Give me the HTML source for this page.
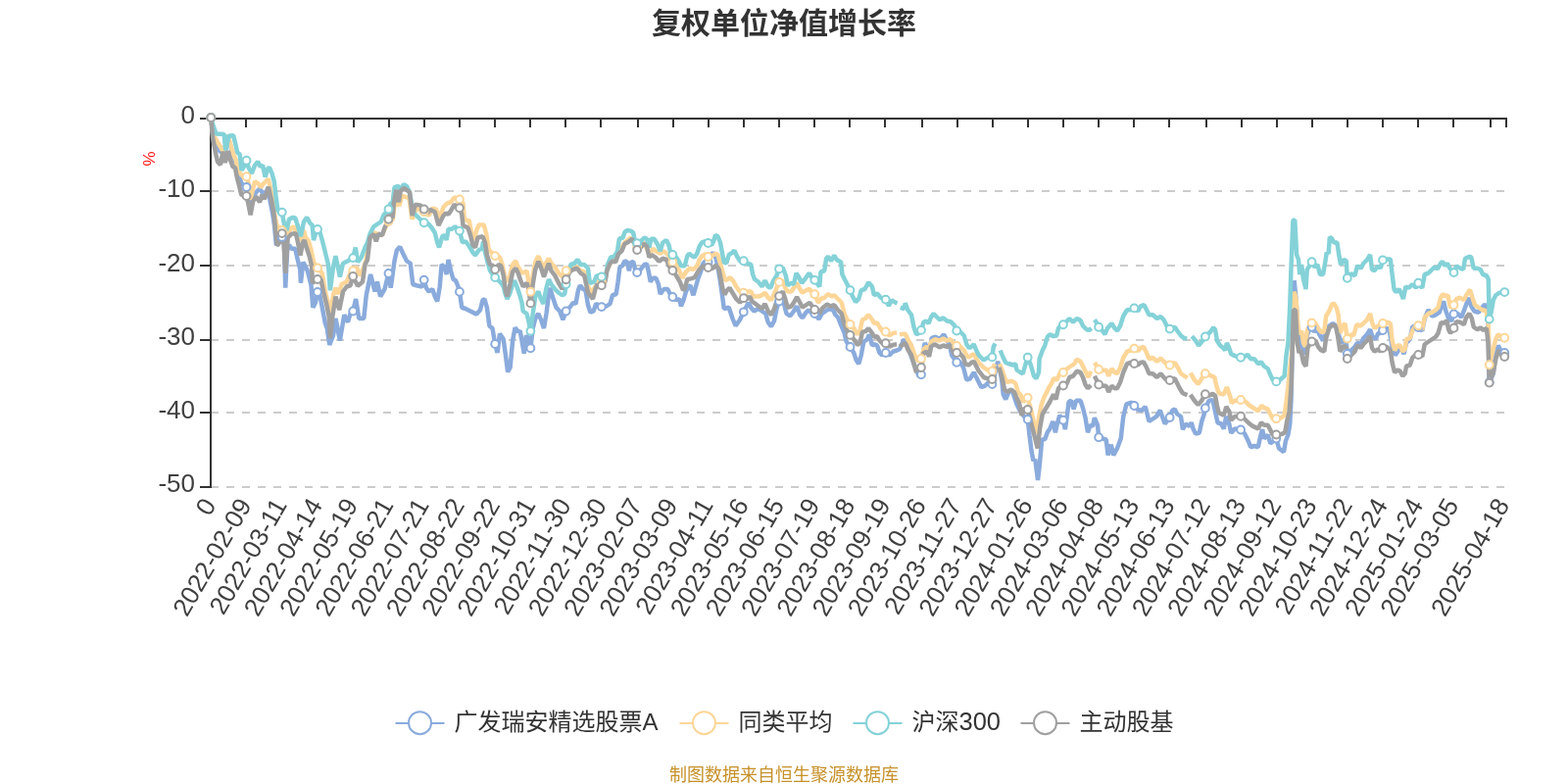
<!DOCTYPE html>
<html lang="zh-CN"><head><meta charset="utf-8"><title>复权单位净值增长率</title>
<style>
html,body{margin:0;padding:0;background:#fff;}
body{width:1600px;height:800px;position:relative;overflow:hidden;font-family:"Liberation Sans","Noto Sans CJK SC",sans-serif;}
.title{position:absolute;left:0;top:0;width:1600px;text-align:center;font-size:30px;font-weight:bold;color:#333;line-height:47px;white-space:nowrap;}
.foot{position:absolute;left:0;top:779px;width:1600px;text-align:center;font-size:18px;color:#c6912a;line-height:24px;white-space:nowrap;}
svg text{font-family:"Liberation Sans","Noto Sans CJK SC",sans-serif;}
.ax{font-size:26px;fill:#404040;}
.leg{font-size:24px;fill:#333;}
.unit{font-size:17px;fill:#ff1a1a;}
</style></head><body>
<svg width="1600" height="800" viewBox="0 0 1600 800" style="position:absolute;left:0;top:0">
<line x1="215" y1="195" x2="1537" y2="195" stroke="#ccc" stroke-width="2" stroke-dasharray="8 8"/>
<line x1="215" y1="271" x2="1537" y2="271" stroke="#ccc" stroke-width="2" stroke-dasharray="8 8"/>
<line x1="215" y1="347" x2="1537" y2="347" stroke="#ccc" stroke-width="2" stroke-dasharray="8 8"/>
<line x1="215" y1="421" x2="1537" y2="421" stroke="#ccc" stroke-width="2" stroke-dasharray="8 8"/>
<line x1="215" y1="497" x2="1537" y2="497" stroke="#ccc" stroke-width="2" stroke-dasharray="8 8"/>
<line x1="215" y1="120" x2="215" y2="498" stroke="#333" stroke-width="2"/>
<line x1="214" y1="121" x2="1538" y2="121" stroke="#333" stroke-width="2"/>
<line x1="204" y1="121" x2="215" y2="121" stroke="#333" stroke-width="2"/>
<line x1="204" y1="195" x2="215" y2="195" stroke="#333" stroke-width="2"/>
<line x1="204" y1="271" x2="215" y2="271" stroke="#333" stroke-width="2"/>
<line x1="204" y1="347" x2="215" y2="347" stroke="#333" stroke-width="2"/>
<line x1="204" y1="421" x2="215" y2="421" stroke="#333" stroke-width="2"/>
<line x1="204" y1="497" x2="215" y2="497" stroke="#333" stroke-width="2"/>
<line x1="251" y1="121" x2="251" y2="130" stroke="#333" stroke-width="2"/>
<line x1="287" y1="121" x2="287" y2="130" stroke="#333" stroke-width="2"/>
<line x1="323" y1="121" x2="323" y2="130" stroke="#333" stroke-width="2"/>
<line x1="361" y1="121" x2="361" y2="130" stroke="#333" stroke-width="2"/>
<line x1="397" y1="121" x2="397" y2="130" stroke="#333" stroke-width="2"/>
<line x1="433" y1="121" x2="433" y2="130" stroke="#333" stroke-width="2"/>
<line x1="469" y1="121" x2="469" y2="130" stroke="#333" stroke-width="2"/>
<line x1="505" y1="121" x2="505" y2="130" stroke="#333" stroke-width="2"/>
<line x1="541" y1="121" x2="541" y2="130" stroke="#333" stroke-width="2"/>
<line x1="577" y1="121" x2="577" y2="130" stroke="#333" stroke-width="2"/>
<line x1="613" y1="121" x2="613" y2="130" stroke="#333" stroke-width="2"/>
<line x1="651" y1="121" x2="651" y2="130" stroke="#333" stroke-width="2"/>
<line x1="687" y1="121" x2="687" y2="130" stroke="#333" stroke-width="2"/>
<line x1="723" y1="121" x2="723" y2="130" stroke="#333" stroke-width="2"/>
<line x1="759" y1="121" x2="759" y2="130" stroke="#333" stroke-width="2"/>
<line x1="795" y1="121" x2="795" y2="130" stroke="#333" stroke-width="2"/>
<line x1="831" y1="121" x2="831" y2="130" stroke="#333" stroke-width="2"/>
<line x1="867" y1="121" x2="867" y2="130" stroke="#333" stroke-width="2"/>
<line x1="903" y1="121" x2="903" y2="130" stroke="#333" stroke-width="2"/>
<line x1="941" y1="121" x2="941" y2="130" stroke="#333" stroke-width="2"/>
<line x1="977" y1="121" x2="977" y2="130" stroke="#333" stroke-width="2"/>
<line x1="1013" y1="121" x2="1013" y2="130" stroke="#333" stroke-width="2"/>
<line x1="1049" y1="121" x2="1049" y2="130" stroke="#333" stroke-width="2"/>
<line x1="1085" y1="121" x2="1085" y2="130" stroke="#333" stroke-width="2"/>
<line x1="1121" y1="121" x2="1121" y2="130" stroke="#333" stroke-width="2"/>
<line x1="1157" y1="121" x2="1157" y2="130" stroke="#333" stroke-width="2"/>
<line x1="1193" y1="121" x2="1193" y2="130" stroke="#333" stroke-width="2"/>
<line x1="1231" y1="121" x2="1231" y2="130" stroke="#333" stroke-width="2"/>
<line x1="1267" y1="121" x2="1267" y2="130" stroke="#333" stroke-width="2"/>
<line x1="1303" y1="121" x2="1303" y2="130" stroke="#333" stroke-width="2"/>
<line x1="1339" y1="121" x2="1339" y2="130" stroke="#333" stroke-width="2"/>
<line x1="1375" y1="121" x2="1375" y2="130" stroke="#333" stroke-width="2"/>
<line x1="1411" y1="121" x2="1411" y2="130" stroke="#333" stroke-width="2"/>
<line x1="1447" y1="121" x2="1447" y2="130" stroke="#333" stroke-width="2"/>
<line x1="1483" y1="121" x2="1483" y2="130" stroke="#333" stroke-width="2"/>
<line x1="1521" y1="121" x2="1521" y2="130" stroke="#333" stroke-width="2"/>
<line x1="1537" y1="121" x2="1537" y2="130" stroke="#333" stroke-width="2"/>
<text x="199" y="126.2" text-anchor="end" class="ax">0</text>
<text x="199" y="201.4" text-anchor="end" class="ax">-10</text>
<text x="199" y="276.6" text-anchor="end" class="ax">-20</text>
<text x="199" y="351.8" text-anchor="end" class="ax">-30</text>
<text x="199" y="427" text-anchor="end" class="ax">-40</text>
<text x="199" y="502.2" text-anchor="end" class="ax">-50</text>
<text transform="translate(215.5,512) rotate(-60)" x="0" y="6.5" text-anchor="end" class="ax">0</text>
<text transform="translate(251.73,512) rotate(-60)" x="0" y="6.5" text-anchor="end" class="ax">2022-02-09</text>
<text transform="translate(287.97,512) rotate(-60)" x="0" y="6.5" text-anchor="end" class="ax">2022-03-11</text>
<text transform="translate(324.2,512) rotate(-60)" x="0" y="6.5" text-anchor="end" class="ax">2022-04-14</text>
<text transform="translate(360.44,512) rotate(-60)" x="0" y="6.5" text-anchor="end" class="ax">2022-05-19</text>
<text transform="translate(396.67,512) rotate(-60)" x="0" y="6.5" text-anchor="end" class="ax">2022-06-21</text>
<text transform="translate(432.9,512) rotate(-60)" x="0" y="6.5" text-anchor="end" class="ax">2022-07-21</text>
<text transform="translate(469.14,512) rotate(-60)" x="0" y="6.5" text-anchor="end" class="ax">2022-08-22</text>
<text transform="translate(505.37,512) rotate(-60)" x="0" y="6.5" text-anchor="end" class="ax">2022-09-22</text>
<text transform="translate(541.61,512) rotate(-60)" x="0" y="6.5" text-anchor="end" class="ax">2022-10-31</text>
<text transform="translate(577.84,512) rotate(-60)" x="0" y="6.5" text-anchor="end" class="ax">2022-11-30</text>
<text transform="translate(614.07,512) rotate(-60)" x="0" y="6.5" text-anchor="end" class="ax">2022-12-30</text>
<text transform="translate(650.31,512) rotate(-60)" x="0" y="6.5" text-anchor="end" class="ax">2023-02-07</text>
<text transform="translate(686.54,512) rotate(-60)" x="0" y="6.5" text-anchor="end" class="ax">2023-03-09</text>
<text transform="translate(722.78,512) rotate(-60)" x="0" y="6.5" text-anchor="end" class="ax">2023-04-11</text>
<text transform="translate(759.01,512) rotate(-60)" x="0" y="6.5" text-anchor="end" class="ax">2023-05-16</text>
<text transform="translate(795.24,512) rotate(-60)" x="0" y="6.5" text-anchor="end" class="ax">2023-06-15</text>
<text transform="translate(831.48,512) rotate(-60)" x="0" y="6.5" text-anchor="end" class="ax">2023-07-19</text>
<text transform="translate(867.71,512) rotate(-60)" x="0" y="6.5" text-anchor="end" class="ax">2023-08-18</text>
<text transform="translate(903.95,512) rotate(-60)" x="0" y="6.5" text-anchor="end" class="ax">2023-09-19</text>
<text transform="translate(940.18,512) rotate(-60)" x="0" y="6.5" text-anchor="end" class="ax">2023-10-26</text>
<text transform="translate(976.41,512) rotate(-60)" x="0" y="6.5" text-anchor="end" class="ax">2023-11-27</text>
<text transform="translate(1012.65,512) rotate(-60)" x="0" y="6.5" text-anchor="end" class="ax">2023-12-27</text>
<text transform="translate(1048.88,512) rotate(-60)" x="0" y="6.5" text-anchor="end" class="ax">2024-01-26</text>
<text transform="translate(1085.12,512) rotate(-60)" x="0" y="6.5" text-anchor="end" class="ax">2024-03-06</text>
<text transform="translate(1121.35,512) rotate(-60)" x="0" y="6.5" text-anchor="end" class="ax">2024-04-08</text>
<text transform="translate(1157.58,512) rotate(-60)" x="0" y="6.5" text-anchor="end" class="ax">2024-05-13</text>
<text transform="translate(1193.82,512) rotate(-60)" x="0" y="6.5" text-anchor="end" class="ax">2024-06-13</text>
<text transform="translate(1230.05,512) rotate(-60)" x="0" y="6.5" text-anchor="end" class="ax">2024-07-12</text>
<text transform="translate(1266.29,512) rotate(-60)" x="0" y="6.5" text-anchor="end" class="ax">2024-08-13</text>
<text transform="translate(1302.52,512) rotate(-60)" x="0" y="6.5" text-anchor="end" class="ax">2024-09-12</text>
<text transform="translate(1338.75,512) rotate(-60)" x="0" y="6.5" text-anchor="end" class="ax">2024-10-23</text>
<text transform="translate(1374.99,512) rotate(-60)" x="0" y="6.5" text-anchor="end" class="ax">2024-11-22</text>
<text transform="translate(1411.22,512) rotate(-60)" x="0" y="6.5" text-anchor="end" class="ax">2024-12-24</text>
<text transform="translate(1447.46,512) rotate(-60)" x="0" y="6.5" text-anchor="end" class="ax">2025-01-24</text>
<text transform="translate(1483.69,512) rotate(-60)" x="0" y="6.5" text-anchor="end" class="ax">2025-03-05</text>
<text transform="translate(1535.45,512) rotate(-60)" x="0" y="6.5" text-anchor="end" class="ax">2025-04-18</text>
<text transform="translate(152,162) rotate(-90)" text-anchor="middle" dominant-baseline="central" class="unit">%</text>
<path d="M215.3 120L217 137L219.5 144L222 149L224.5 154.5L227.5 156L229.5 153L231.5 138L235 148L238 159L241 167L243 176L246 186L249 190L251.53 191L253.75 198.75L255.62 212.5L258.12 201.25L261.25 196.25L265 192.5L267.5 196.25L270 200L273.75 191.25L275.62 205L278.12 217.5L280 230L281.88 250L285 247.5L287.77 241.9L290 250L291.25 293.75L293.12 255L295 250L297.5 253.75L301.25 253.75L303.75 265L306.25 275L306.88 288.75L309.38 267.5L313.75 276.25L317.5 291.25L319.38 313.75L321.88 308.75L324 298L326.25 301.25L328.12 310L330 320L331.88 330L333.75 335L336.25 351.88L340 342.5L342.5 325L346.88 347.5L351.25 321.25L355 328.75L357.5 320L360.24 317.5L363.12 305L366.25 325L371.25 325L373.75 301.25L378.12 280L382.5 297.5L385 287.5L388.12 302.5L392.5 295L396.47 279L398.75 293.75L402.5 266.25L405 255L408.12 251.88L411.25 258.75L415 266.25L418.75 268.75L421.25 290L425 291.25L430.62 292.5L432.7 285.6L435 293.75L437.5 297.5L441.25 295L443.75 302.5L446.25 307.5L448.75 292.5L450.62 270L453.75 272.5L455.62 280L457.5 265L460 276.25L462.5 285L465 286.25L467.5 292.5L468.94 297.75L471.25 313.75L475 315L480 317.5L486.25 320.62L490 316.25L492.5 306.25L494.38 305L496.88 313.75L499.38 332.5L502.5 335L505.17 351L507.5 360L510 340.62L513.75 346.25L515.62 360L518.12 379.38L520.62 375L523.12 347.5L525.62 334.38L528.75 338.75L530.62 337.5L532.5 347.5L534.75 360.62L536.88 342.5L539.38 345L541.41 355.25L543.75 335L546.25 325L549.38 320L552.5 327.5L555 335L557.5 320L560 300L561.25 293.75L563.75 302.5L567.5 313.75L571.25 317.5L574.38 326.25L577.64 317.5L581.25 313.75L585 308.75L587.5 310L590 296.25L591.88 291.25L595 295L597.5 296.25L600 311.25L602.5 318.75L605.62 317.5L608.12 310L613.87 313.1L618.75 312.5L622.5 310L625 301.25L628.75 300L630.62 287.5L632.5 272.5L635 271.25L637.5 266.25L640 267.5L641.88 276.25L643.75 268.12L646.25 266.88L648.12 275L650.11 278.1L653.75 275L655.62 272.5L657.5 270L660 269.38L661.88 277.5L663.75 287.5L666.25 283.75L669.38 283.75L671.88 290L673.75 300L677.5 295L681.25 295L683.75 300L686.34 303L690 306.25L693.12 305L695 312.5L697.5 306.25L700 297.5L702.5 292.5L704.38 291.25L707.5 301.25L710 292.5L712.5 283.75L715 277.5L717.5 268.75L720 266.25L722.58 267.5L727.5 257.5L730.62 263.75L732.5 272.5L735 287.5L737.5 305L738.75 315L743.75 313.75L747.5 325L750.62 332.5L755 326.25L758.81 318.3L763.75 308.75L766.25 313.75L769.38 317.5L773.75 315L777.5 317.5L781.25 320L783.75 328.75L786.88 333.12L790 327.5L792.5 315L795.04 307.5L800 310L802.5 320L806.25 322.5L810 317.5L813.12 312.5L816.25 321.25L818.75 324.38L822.5 318.75L825 316.25L827.5 318.75L831.28 320L835.62 325.62L838.75 320L842.5 317.5L846.25 315L850 316.25L852.5 321.25L855 323.75L857.5 330L861.25 338.75L863.75 348.75L867.51 354L871.25 360L873.75 367.5L876.25 371.25L878.75 362.5L881.25 348.75L885 346.25L886.88 341.25L890 352.5L892.5 351.25L895 352.5L897.5 360L900 362.5L903.75 360L907.5 362.5L911.25 358.75L915.12 357.5L918 356.25L922.5 346.25L925 351.25L927.5 357.5L931.25 367.5L935 377.5L937.5 383.75L939.98 382.25L941.88 360L943.75 350L946.25 355L948.75 360L950.62 345L955 343.75L958.75 346.25L963.12 341.25L966.25 347.5L968.75 351.25L971.25 362.5L976.21 369.75L980 370L983.12 375L986.25 387.5L990 386.25L993.75 380L996.25 385L998.75 390L1001.25 395L1005 393.75L1008.75 390L1012.45 392L1015.62 380L1018.12 368.75L1020.62 378.75L1022.5 390L1023.75 402.5L1026.25 407.5L1029.38 400L1032.5 397.5L1035 405L1037.5 412.5L1041.25 420L1045 425L1048.68 428L1050.62 445L1052.5 460L1054.38 470L1056.25 468.75L1058.12 482.5L1059 490L1060.62 476.25L1061.88 462.5L1063.12 448.75L1066.25 448.12L1068.75 441.25L1071.25 437.5L1074.38 430L1076.88 441.25L1078.75 432.5L1081.25 423.75L1084.92 428.75L1086.88 438.12L1088.75 425L1090.62 410L1093.12 408.75L1095.62 417.5L1098.12 408.75L1102.5 408.75L1105 416.25L1107.5 426.25L1110 441.25L1112.5 433.75L1115 435L1116.88 426.25L1120 433.75L1121.15 446.25L1125 447.5L1128.75 448.75L1130.62 464.38L1133.75 453.75L1136.25 464.38L1140 457.5L1143.75 447.5L1146.25 425L1149.38 412.5L1155 410.62L1157.38 414L1161.25 418.12L1165 418.75L1168.75 415L1172.5 430L1176.25 427.5L1180 425L1183.75 418.75L1188.75 432.5L1193.62 426L1196.25 418.75L1198.75 417.5L1201.25 422.5L1205 425L1206.88 438.12L1210 432.5L1213.75 435L1215.62 431.25L1217.5 437.5L1220 442.5L1223.75 441.88L1226.25 430L1228.75 422.5L1229.85 416.5L1233.75 408.75L1237.5 408.12L1240 420L1242.5 431.25L1246.25 432.5L1248.75 437.5L1251.25 425L1253.75 430L1256.25 441.88L1260 437.5L1266.09 438.5L1270 442.5L1273.75 450L1276.25 456.25L1280 455L1283.75 456.25L1286.25 445L1288.12 438.12L1290 447.5L1293.75 443.75L1296.25 452.5L1300 450L1302.32 447.5L1305 457.5L1310 461.25L1311.88 450L1314.38 443.75L1316.25 432.5L1317.5 407.5L1319 342.5L1320.62 286.25L1322.5 305L1324.38 336.25L1326.25 346.25L1330 357.5L1331.88 361.25L1333.75 342.5L1336.25 336.25L1338.55 333.75L1341.25 338.75L1343.75 335L1346.25 341.25L1350 347.5L1352.5 340L1356.25 332.5L1360 330L1363.75 332.5L1366.25 342.5L1368.75 350L1371.25 346.25L1373.75 350L1374.79 361L1378.75 357.5L1382.5 353.75L1385 350L1388.75 351.25L1391.25 345L1395 341.25L1398.12 336.25L1400 342.5L1403.75 346.25L1406.25 340L1408.75 340L1411.02 337L1415 335L1417.5 336.25L1420 350L1421.25 356.25L1423.75 362.5L1426.88 357.5L1430 355L1432.5 361.25L1435 350L1438.75 346.25L1441.25 333.75L1443.75 332.5L1447.26 334L1451.25 337.5L1453.75 325L1457.5 316.25L1461.25 322.5L1465 321.25L1468.75 318.75L1471.25 311.25L1473.12 307.5L1475 316.25L1478.12 325L1481.25 327.5L1483.49 320.4L1487.5 320L1491.25 323.75L1495 313.75L1498.75 303.75L1501.25 312.5L1504.38 317.5L1508.75 318.75L1512.5 313.75L1515 310.62L1517.5 313.75L1518.75 337.5L1519.72 390.2L1523.75 381.25L1526.25 362.5L1528.75 352.5L1531.25 357.5L1535.25 360" fill="none" stroke="#8aabdc" stroke-width="4.5" stroke-linejoin="bevel" stroke-linecap="butt"/>
<path d="M215.3 120L217 135L219.5 141L222 145L225 150L227.5 154L229.5 152L232 138L235 146.5L238 157L241 164L242.5 172L245 177L248 180L251.53 180.25L253.75 187.5L255.62 203.75L260 185L263.75 187.5L266.25 191.25L268.75 187.5L273.75 182.5L277.5 198.75L280 217.5L282.5 230L287.77 235L292.5 238.75L297.5 232.5L300 231.25L303.75 242.5L306.88 245L310 235L311.88 242.5L315 246.25L317.5 255L320 267.5L324 273.3L328.75 278.75L331.88 297.5L335 310L336.88 322.5L340 301.25L342.5 293.75L345 300L348.75 290L353.75 287.5L357.5 278.75L360.24 276.25L363.75 272.5L367.5 281.25L371.25 272.5L373.75 265L377.5 242.5L381.25 237.5L385 238.75L390 240L392.5 233.75L396.47 226L398.75 216.25L400.62 225L402.5 210L405 207.5L407.5 210L410 200L415 201.25L417.5 202.5L420.62 223.75L425 212.5L432.7 216L437.5 220L441.25 212.5L445 213.75L448.75 222.5L452.5 211.25L456.25 207.5L460 206.25L463.75 201.25L468.94 203.5L472.5 207.5L473.75 222.5L476.25 225L478.75 225L481.25 238.75L483.75 245L486.25 235L488.75 229.38L493.75 229.38L496.25 238.75L498.75 255L505.17 261.1L510 262.5L512.5 270L515 281.25L517.5 287.5L520 282.5L523.12 270L526.25 266.25L528.75 272.5L532.5 278.75L535.62 277.5L537.5 276.25L539.38 287.5L541.41 297.75L543.75 281.25L546.25 267.5L549.38 261.25L551.88 267.5L555 273.75L557.5 267.5L560 263.75L562.5 268.75L566.25 272.5L570 278.75L573.75 282.5L577.64 276.25L581.25 272.5L585 271.25L588.75 272.5L592.5 276.25L596.25 277.5L600 292.5L603.75 298.75L607.5 292.5L613.87 287.5L617.5 285L619.38 275L625 265L631.25 257.5L637.5 247.5L643.75 242.5L650.11 252L657.5 247.5L662.5 260L666.25 253.75L670 256.88L673.75 258.75L677.5 256.25L681.25 260L686.34 267.5L690 270L693.75 277.5L696.25 283.75L700 277.5L703.75 273.75L707.5 275L711.25 271.25L713.75 265L716.25 261.25L720 259.38L722.58 262L726.25 261.25L730 258.75L732.5 260L735 268.75L737.5 277.5L740 286.25L742.5 285L745 283.12L748.75 287.5L751.25 292.5L755 297.5L758.81 298.75L762.5 297.5L766.25 297.5L768.75 302.5L773.75 302.5L777.5 301.25L780.62 298.75L783.75 303.75L786.88 306.25L790 300L792.5 293.75L795.04 287.9L798.75 286.25L801.25 293.75L803.75 297.5L807.5 297.5L810 293.75L813.12 288.75L816.25 295L818.75 298.75L822.5 296.25L826.25 295L828.75 298.75L831.28 300.25L835 308.75L837.5 305L841.25 303.75L845 300L848.75 302.5L851.25 301.25L855 305L858.75 308.75L861.25 318.75L863.75 325L867.51 331L871.25 335L875 341.25L877.5 337.5L880 326.25L883.12 325L886.25 321.25L890 326.25L891.88 330L895 329.38L897.5 333.75L900 337.5L903.75 338.5L907.5 342.5L911.25 340L915.12 339.38M918 341.25L923.75 340.62L926.25 346.25L930 352.5L932.5 360L935 366.25L937.5 368.75L939.98 366L942.5 356.25L945.62 353.75L948.12 356.25L950 348.75L953.75 346.25L958.75 347.5L962.5 345.62L966.25 347.5L970 346.25L973.75 351.25L976.21 353L980 353.75L983.75 357.5L986.25 362.5L988.75 365L991.25 362.5L993.75 361.25L996.25 366.25L998.75 370L1000 371.25L1003.75 375L1007.5 377.5L1012.45 378.75L1015 371.25M1020 371.25L1022.5 377.5L1025 385L1027.5 390L1032.5 388.75L1036.25 391.25L1038.75 400L1041.25 402.5L1043.75 410L1048.68 405.8L1052.5 420L1055 431.25L1057.5 442.5L1060 426.25L1062.5 413.75L1065 406.25L1068.75 398.75L1070 396.25L1073.75 390L1075 386.25L1078.75 387.5L1081.25 381.25L1084.92 380L1088.75 376.25L1092.5 373.75L1096.25 371.25L1098.75 366.88L1102.5 368.75L1105 373.75L1108.75 381.25L1110.62 385L1113.12 378.75M1116.88 370L1119.38 373.75L1121.15 377L1125 378.12L1128.75 377.5L1131.25 383.75L1134.38 376.25L1137.5 380L1140 381.25L1143.12 375L1146.25 365L1150 358.75L1153.75 357.5L1157.38 355.6L1161.25 358.12L1163.75 355L1166.88 353.75L1170 360L1172.5 366.25L1176.25 365L1180.62 368.75L1184.38 365.62L1187.5 368.75L1191.25 372.5L1193.62 372.5L1198.75 370L1202.5 376.25L1205 381.25L1208.75 383.75L1211.75 385.62M1214.75 380.62L1218.75 387.5L1222.5 391.88L1226.25 386.25L1229.85 381.25L1235 383.12L1239.38 385L1241.25 393.75L1243.75 401.25L1248.75 402.5L1251.88 395L1255 403.75L1256.88 411.25L1260 408.75L1266.09 408L1271.25 410L1275 413.75L1280 416.88L1283.75 419.38L1287.5 413.75L1290 416.25L1293.75 417.5L1296.25 422.5L1298.75 427.5L1302.32 427.25L1307.5 426.25L1310.62 423.75L1312.5 410L1314.38 395L1316.25 376.25L1318.75 355L1320.62 297.5L1322.5 305L1324.38 332.5L1326.25 341.25L1328.12 337.5L1330 350L1331.88 353.75L1333.75 337.5L1336.25 332.5L1338.55 329.4L1342.5 330L1345 335L1348.12 338.75L1351.25 338.75L1353.12 322.5L1356.25 317.5L1358.75 311.25L1360.62 309.38L1363.75 313.75L1365.62 321.25L1367.5 340L1370 332.5L1372.5 330L1374.79 345.6L1378.75 341.25L1381.25 342.5L1384.38 331.25L1388.12 332.5L1391.25 330L1395 326.25L1398.12 320L1400 328.75L1402.5 335L1406.25 332.5L1408.75 333.75L1411.02 330L1415 328.75L1418.75 330L1420.62 347.5L1423.12 357.5L1426.25 352.5L1428.75 352.5L1431.25 358.75L1433.75 356.25L1435 346.25L1438.75 345L1441.25 337.5L1443.75 333.75L1447.26 332.25L1451.25 336.25L1453.75 323.75L1457.5 320L1461.25 318.75L1465 316.25L1467.5 313.75L1470 303.75L1472.5 300L1475 302.5L1477.5 301.25L1480 313.75L1483.49 311.25L1486.25 305L1490 303.75L1493.75 306.25L1496.25 301.25L1500 295.62L1502.5 303.75L1505 311.25L1508.75 313.75L1512.5 316.25L1516.88 317.5L1518.75 332.5L1519.72 372.25L1523.12 358.75L1526.25 346.25L1528.75 341.25L1532.5 343.75L1535.25 344.75" fill="none" stroke="#fdd698" stroke-width="4.5" stroke-linejoin="bevel" stroke-linecap="butt"/>
<path d="M215.3 120L217.75 128.75L220.5 136.5L228.75 137L230 151.88L230.75 152.5L233.25 138.75L238.12 138.12L240 145.62L242.25 155.62L244.75 157.5L246.5 173.75L248.75 170L251.53 163.75L253.75 171.25L256.88 176.88L260 168.75L263.12 165L265.62 170L268.12 168.75L270.62 180.62L273.12 172.5L274.75 170.62L277.5 176.88L279.75 185L281.5 200L283.5 215L287.77 216.6L290 228.75L292.5 235L295 223.75L298.75 221.88L301.25 222.5L303.75 230L306.88 241.25L310 226.25L313.12 221.88L316.25 227.5L318.75 230L320 245L321.88 238.75L324 234L326.25 236.25L328.75 245L331.25 255L333.12 262.5L335 270L336.88 296.25L340 272.5L342.5 261.25L346.88 282.5L350 268.75L355 266.25L360.24 263.1L362.75 252.5L365 267.5L368.75 262.5L372.5 252.5L375 247.5L377.5 238.75L381.25 231.25L385 228.75L388.75 226.25L391.25 220L396.47 213.5L398.75 206.88L400.62 207.5L402.5 191.25L406.25 190L408.75 193.12L411.88 188.12L415 190L417.5 195L420 207.5L422.5 217.5L425 220L428.75 223.75L432.7 227.25L437.5 228.75L440.62 232.5L443.75 237.5L446.25 247.5L448.12 252.5L451.25 241.25L453.75 240L455.62 245L457.5 233.75L461.25 233.75L464.38 231.25L468.94 235.6L471.88 247.5L475 246.25L478.75 251.25L482.5 257.5L485 260.62L488.75 255L491.88 253.75L493.12 246.25L495 257.5L497.5 267.5L500 276.25L505.17 283.1L508.75 286.25L511.25 288.75L513.75 292.5L515.62 300L517.5 305L520 300L523.12 290L525 286.25L527.5 292.5L530 300L532.5 308.75L533.75 317.5L537.5 320L539.38 327.5L541.41 337.8L543.75 320L546.25 302.5L549.38 297.5L551.88 305L554.38 310L557.5 293.75L560 285L562.5 290L566.25 295L570 298.75L573.75 301.25L576.25 300L577.64 290L580 277.5L582.5 270L586.25 268.75L589.38 265L592.5 270L596.25 270L598.75 272.5L600 273.75L601.88 288.75L606.25 287.5L608.75 281.25L613.87 282.5L618.12 282.5L620 270L623.12 262.5L626.88 261.88L630 256.25L631.88 243.75L635.62 242.5L637.5 236.88L640 235L643.75 235.62L646.25 237.5L648.12 247.5L650.11 248.1L653.75 246.25L657.5 242.5L660 243.75L662.5 252.5L664.38 243.75L667.5 243.75L670.62 248.75L673.75 256.25L676.25 247.5L680 245L682.5 250L684.38 258.75L686.34 260L690 262.5L692.5 266.25L695 271.25L698.75 271.25L701.25 261.25L703.12 258.75L706.25 261.25L708.75 262.5L711.25 258.75L713.75 251.25L716.25 247.5L720 246.25L722.58 248L726.25 250L728.12 246.25L730 240L732.5 241.25L735 247.5L736.88 257.5L738.75 267.5L741.25 268.75L743.75 260L746.88 258.12L749.38 255.62L751.88 261.25L755 266.25L758.81 266.25L762.5 268.75L766.25 270L768.12 280L770 285L773.75 287.5L777.5 292.5L780.62 286.25L783.75 292.5L786.25 293.75L788.75 287.5L792.5 281.25L795.04 274.4L798.75 273.12L801.88 281.25L803.75 291.25L807.5 288.75L810 290L812.5 278.75L815 282.5L818.12 288.75L821.25 285L825.62 278.75L828.75 283.75L831.28 285.8L834.38 290L836.25 292.5L837.5 277.5L841.25 276.25L843.12 263.75L845 261.88L848.12 266.25L851.25 260.62L853.75 265L858.12 267.5L859.38 280L862.5 286.25L867.51 296.1L870 302.5L873.12 308.12L876.25 305L878.75 296.25L882.5 295L886.25 288.12L890 292.5L891.88 301.25L895 299.38L898.75 303.75L903.75 305.6L906.88 311.88L910 306.25L913.75 308.75L915.62 309.38M918.75 313.75L922.5 315L923.75 309.38L926.25 316.25L930 321.25L932.5 333.75L935 341.25L937.5 340L939.98 336.9L942.5 328.75L945 327.5L947.5 330L950 323.75L952.5 320L955 322.5L958.75 326.25L962.5 324.38L966.25 327.5L970 328.12L973.75 331.88L976.21 337.5L980 338.75L983.75 342.5L986.25 351.25L988.75 355L991.25 353.75L993.75 351.25L996.25 357.5L998.75 362.5L1000 363.75L1003.75 367.5L1007.5 365L1012.45 364.4L1013.75 353.75L1015.62 350.62M1020.62 357.5L1023.75 365L1026.25 370L1030 371.25L1033.75 372.5L1036.25 371.25L1037.5 377.5L1041.25 380L1043.75 381.25L1046.25 372.5L1048.68 364.75L1051.88 372.5L1055 383.75L1057.5 386.25L1060 380L1060.62 366.25L1063.75 357.5L1066.25 352.5L1068.75 343.75L1071.25 341.25L1075 343.12L1078.12 342.5L1080 335L1082.5 331.88L1084.92 331.25L1088.75 327.5L1091.25 325L1095 328.75L1098.75 325L1102.5 326.88L1105 332.5L1108.75 336.25L1111.25 336.88L1113.75 335M1116.88 326.25L1119.38 330L1121.15 333.75L1125 337.5L1127.5 341.25L1130 335L1134.38 330L1137.5 335L1140 337.5L1143.12 332.5L1146.25 322.5L1150 316.25L1153.75 316.25L1157.38 314.4L1161.25 317.5L1163.75 312.5L1167.5 311.25L1170 316.25L1172.5 321.25L1176.25 321.25L1180.62 325L1184.38 323.12L1187.5 326.25L1191.25 333.75L1193.62 335.6L1198.75 333.75L1201.25 337.5L1205 342.5L1208.12 345L1211.25 345.62M1216.25 343.12L1220 347.5L1223.12 352.5L1226.25 348.75L1229.85 343.5L1235 338.75L1238.12 334.38L1240 336.25L1241.88 347.5L1245 352.5L1248.12 355L1250 357.5L1251.88 350L1253.75 353.75L1256.25 361.25L1260 363.12L1266.09 364.75L1270 363.75L1273.12 361.88L1276.25 366.25L1280 366.25L1283.75 371.25L1286.88 369.38L1290 373.75L1293.75 376.25L1296.25 382.5L1298.75 387.5L1302.32 389.4L1306.25 387.5L1310.62 383.75L1312.5 362.5L1314.38 350L1316.25 312.5L1317.5 272.5L1319.38 225L1321.25 224.38L1323.12 260L1325 265L1326.25 280L1328.12 270L1330 285L1332.5 295L1333.75 275L1336.25 271.25L1338.55 267.25L1341.25 272.5L1344.38 270L1346.88 280L1350 280L1351.88 270L1353.75 257.5L1355.62 258.75L1356.88 241.88L1358.75 243.12L1361.25 247.5L1364.38 247.5L1366.25 260L1368.12 270L1371.25 265L1373.75 266.25L1374.79 283.75L1378.75 279.38L1382.5 281.25L1385 271.25L1388.75 273.75L1391.25 268.75L1395 265L1398.12 260L1400 275L1402.5 276.25L1406.25 271.25L1408.75 273.75L1411.02 265.4L1415 264.38L1418.75 264.38L1420.62 280L1422.5 295L1424.38 298.12L1427.5 295L1430 300L1431.88 305L1434.38 292.5L1437.5 293.75L1441.25 290L1445 293.75L1447.26 288.75L1451.25 293.75L1453.75 280L1457.5 278.75L1461.25 275L1463.75 272.5L1466.88 274.38L1470 268.75L1471.88 266.88L1474.38 271.25L1476.88 268.75L1479.38 273.75L1483.49 278.1L1486.25 271.25L1490 273.75L1493.12 275L1495 263.75L1499.38 261.88L1501.25 262.5L1503.75 273.75L1507.5 273.75L1510.62 275L1513.12 280L1516.88 281.25L1518.75 285L1519.72 325.6L1521.88 317.5L1523.75 306.25L1526.25 301.25L1530 298.75L1535.25 298.1" fill="none" stroke="#84d2d8" stroke-width="4.5" stroke-linejoin="bevel" stroke-linecap="butt"/>
<path d="M215.3 120L217 140L219.25 152.5L222 165L224.88 168.12L227.5 154.75L229.75 166L232.75 154L235 163.12L237.5 170L240 171.25L241.88 181.25L243.75 188.12L246.25 198.75L251.53 200L253.12 206.88L255.62 219.38L258.12 205.62L261.25 200.62L265 206.25L267.5 198.75L270 203.12L274 190.62L276.88 203.75L279.38 217.5L281 232.5L282.75 250.62L285 247.5L287.77 238.1L289.25 242.5L291.25 278.75L293.75 242.5L297.5 238.75L301.88 238.12L304 247.5L306.5 260.62L309 247.5L310.62 245L312.75 252.5L315.62 261.25L318.12 271.25L318.75 288.75L324 285L327.5 285L330 297.5L333.12 310L335.62 322.5L336.88 345L339.38 322.5L342.5 302.5L346.25 316.25L350 297.5L353.75 292.5L357.5 291.25L360.24 281.9L365 291.88L370 287.5L372.5 270L375 265L377.5 242.5L381.25 238.75L383.75 246.25L386.25 238.75L390 240L392.5 232.5L396.47 223.75L398.75 213.75L400.62 222.5L401.88 207.5L404.38 193.75L406.88 206.25L408.75 195L411.88 191.88L415 193.75L418.12 196.25L420.62 220L423.75 208.75L428.75 209.38L432.7 213.5L436.25 217.5L438.75 213.75L443.75 216.25L447.5 230L452.5 220L455 217.5L457.5 218.75L460 215L463.75 208.75L468.94 212.25L471.25 218.75L472.5 230L477.5 232.5L480 240L482.5 250L485 252.5L487.5 242.5L492.5 241.25L495 247.5L496.88 260L500 270L502.5 270.62L505.17 275L508.75 270L511.25 271.25L513.75 281.25L515.62 295L517.5 302.5L520 292.5L523.12 277.5L526.25 273.75L528.75 278.75L531.25 286.25L533.75 292.5L537.5 288.75L539.38 295L541.41 309.4L543.75 290L546.25 275L549.38 266.88L551.88 272.5L555 282.5L557.5 275L560 268.75L562.5 276.25L566.25 281.25L570 288.75L573.75 295L577.64 285.25L581.25 277.5L585 275L588.75 273.75L592.5 278.75L596.25 281.25L600 298.75L605 305L607.5 295L609.38 290L613.87 291.25L617.5 287.5L619.38 276.25L622.5 268.75L625 266.25L628.12 267.5L631.25 258.75L634.38 256.25L637.5 248.75L641.25 246.88L645 243.75L647.5 248.75L650.11 255L653.75 252.5L656.88 248.75L660 251.25L662.5 262.5L665 260L668.75 262.5L672.5 266.88L676.25 263.75L680 265L682.5 271.25L686.34 276L690 281.25L693.75 287.5L696.88 295.62L698.75 295L701.25 285L705 284.38L708.75 283.12L711.25 278.75L713.75 275L717.5 271.25L722.58 273L727.5 273.75L730.62 270.62L733.75 275L735.62 285L737.5 295L739.38 300.62L741.88 296.25L744.38 293.75L747.5 298.75L751.25 305L755 308.75L758.81 304.2L762.5 305L765 302.5L767.5 307.5L772.5 311.25L777.5 315L780.62 310L783.75 317.5L786.88 321.25L790 315L792.5 307.5L795.04 302.1L798.75 297.5L801.25 305L803.75 313.75L807.5 312.5L810 308.75L813.12 303.12L816.25 308.75L818.75 313.75L822.5 311.25L826.25 308.75L828.75 312.5L831.28 316L836.25 320L838.75 315L843.75 310.62L847.5 312.5L851.25 311.25L855 316.25L858.75 320L861.25 330L863.75 336.25L867.51 341.9L871.25 346.25L875 351.88L877.5 350L880 338.75L883.12 338.12L886.25 335L890 340L891.88 343.75L895 343.12L897.5 347.5L900 350L903.75 350.25L907.5 353.75L911.25 351.88L915.12 351.25M918 353.75L923.75 350L926.25 356.25L930 362.5L932.5 371.25L935 380L937.5 377.5L939.98 375L942.5 360L945.62 358.75L948.12 363.75L950 353.75L953.75 351.25L958.75 354.38L962.5 352.5L966.25 353.75L970 352.5L972.5 358.75L976.21 360L980 361.25L983.12 365L985 371.25L988.75 372.5L991.25 370L993.75 368.75L996.25 373.75L998.75 378.75L1000 380L1003.75 385L1007.5 386.25L1012.45 387L1015.62 374.38M1019.38 375L1022.5 385L1025 397.5L1028.12 400L1031.25 397.5L1035 400L1037.5 406.25L1040 411.25L1042.5 423.75L1045.62 416.25L1048.68 418L1052.5 432.5L1055.62 445L1058.75 457.5L1061.25 436.25L1063.75 422.5L1067.5 416.25L1071.25 410L1075 402.5L1077.5 407.5L1080 396.25L1081.25 395L1084.92 393.5L1088.75 391.25L1091.25 385L1095 383.75L1098.75 378.75L1102.5 380L1105 385L1107.5 392.5L1110 396.25L1113.12 393.12M1116.88 383.75L1119.38 388.75L1121.15 392.5L1125 393.75L1128.75 393.75L1131.25 400L1134.38 393.75L1137.5 396.25L1140 396.25L1143.12 390L1146.25 380L1150 371.25L1153.75 370L1157.38 371L1161.25 372.5L1163.75 370L1166.88 369.38L1170 375L1172.5 381.25L1176.25 381.25L1180.62 385L1184.38 381.25L1187.5 385L1191.25 388.75L1193.62 388L1198.75 386.25L1201.25 391.25L1203.75 396.25L1206.88 401.25L1211.5 403.12M1214.75 402.75L1218.75 408.75L1222.5 413.12L1226.25 408.75L1229.85 402.25L1233.75 403.75L1237.5 401.88L1240 403.75L1241.88 413.75L1243.75 421.25L1248.75 423.75L1251.25 415L1254.38 420L1256.25 428.75L1260 425L1266.09 424.75L1270 427.5L1273.75 431.25L1277.5 434.38L1283.75 437.5L1286.88 431.25L1290 433.75L1293.75 433.75L1296.25 438.75L1298.75 443.75L1302.32 443.5L1307.5 443.12L1311.25 441.25L1313.12 430L1315.62 420L1317.5 395L1320 316.25L1321.88 316.25L1323.75 350L1325.62 360L1327.5 357.5L1330 370L1332.5 373.75L1334.38 355L1336.88 350L1338.55 348.5L1342.5 347.5L1345 353.75L1348.12 357.5L1351.25 358.75L1353.12 345L1356.25 335L1360 331.25L1363.12 333.75L1365 342.5L1367.5 358.75L1371.25 352.5L1373.75 355L1374.79 366L1378.75 362.5L1382.5 358.75L1385 352.5L1388.75 355L1391.25 351.25L1395 347.5L1398.12 343.12L1400 355L1402.5 358.75L1406.25 356.25L1408.75 358.75L1411.02 355L1415 353.75L1418.75 357.5L1420.62 370L1423.12 380L1426.25 377.5L1428.75 378.75L1431.25 383.75L1433.75 381.25L1435 373.75L1438.75 372.5L1441.25 365L1443.75 362.5L1447.26 362L1451.25 363.75L1453.75 351.25L1457.5 348.75L1461.25 346.25L1465 343.75L1467.5 340L1470.62 328.75L1473.75 330L1476.25 326.88L1478.12 336.25L1480 340L1483.49 334.75L1486.25 328.12L1490 328.75L1493.75 331.25L1496.25 323.75L1499.38 320L1501.88 325L1503.75 333.75L1507.5 336.25L1510.62 334.38L1513.75 336.88L1516.88 335L1518.5 350L1519.72 390.6L1523.75 380L1526.25 366.25L1529.38 357.5L1532.5 362.5L1535.25 364" fill="none" stroke="#a0a0a0" stroke-width="4.5" stroke-linejoin="bevel" stroke-linecap="butt"/>
<circle cx="215.3" cy="120" r="3.9" fill="#fff" stroke="#8aabdc" stroke-width="2"/>
<circle cx="251.53" cy="191" r="3.9" fill="#fff" stroke="#8aabdc" stroke-width="2"/>
<circle cx="287.77" cy="241.9" r="3.9" fill="#fff" stroke="#8aabdc" stroke-width="2"/>
<circle cx="324" cy="298" r="3.9" fill="#fff" stroke="#8aabdc" stroke-width="2"/>
<circle cx="360.24" cy="317.5" r="3.9" fill="#fff" stroke="#8aabdc" stroke-width="2"/>
<circle cx="396.47" cy="279" r="3.9" fill="#fff" stroke="#8aabdc" stroke-width="2"/>
<circle cx="432.7" cy="285.6" r="3.9" fill="#fff" stroke="#8aabdc" stroke-width="2"/>
<circle cx="468.94" cy="297.75" r="3.9" fill="#fff" stroke="#8aabdc" stroke-width="2"/>
<circle cx="505.17" cy="351" r="3.9" fill="#fff" stroke="#8aabdc" stroke-width="2"/>
<circle cx="541.41" cy="355.25" r="3.9" fill="#fff" stroke="#8aabdc" stroke-width="2"/>
<circle cx="577.64" cy="317.5" r="3.9" fill="#fff" stroke="#8aabdc" stroke-width="2"/>
<circle cx="613.87" cy="313.1" r="3.9" fill="#fff" stroke="#8aabdc" stroke-width="2"/>
<circle cx="650.11" cy="278.1" r="3.9" fill="#fff" stroke="#8aabdc" stroke-width="2"/>
<circle cx="686.34" cy="303" r="3.9" fill="#fff" stroke="#8aabdc" stroke-width="2"/>
<circle cx="722.58" cy="267.5" r="3.9" fill="#fff" stroke="#8aabdc" stroke-width="2"/>
<circle cx="758.81" cy="318.3" r="3.9" fill="#fff" stroke="#8aabdc" stroke-width="2"/>
<circle cx="795.04" cy="307.5" r="3.9" fill="#fff" stroke="#8aabdc" stroke-width="2"/>
<circle cx="831.28" cy="320" r="3.9" fill="#fff" stroke="#8aabdc" stroke-width="2"/>
<circle cx="867.51" cy="354" r="3.9" fill="#fff" stroke="#8aabdc" stroke-width="2"/>
<circle cx="903.75" cy="360" r="3.9" fill="#fff" stroke="#8aabdc" stroke-width="2"/>
<circle cx="939.98" cy="382.25" r="3.9" fill="#fff" stroke="#8aabdc" stroke-width="2"/>
<circle cx="976.21" cy="369.75" r="3.9" fill="#fff" stroke="#8aabdc" stroke-width="2"/>
<circle cx="1012.45" cy="392" r="3.9" fill="#fff" stroke="#8aabdc" stroke-width="2"/>
<circle cx="1048.68" cy="428" r="3.9" fill="#fff" stroke="#8aabdc" stroke-width="2"/>
<circle cx="1084.92" cy="428.75" r="3.9" fill="#fff" stroke="#8aabdc" stroke-width="2"/>
<circle cx="1121.15" cy="446.25" r="3.9" fill="#fff" stroke="#8aabdc" stroke-width="2"/>
<circle cx="1157.38" cy="414" r="3.9" fill="#fff" stroke="#8aabdc" stroke-width="2"/>
<circle cx="1193.62" cy="426" r="3.9" fill="#fff" stroke="#8aabdc" stroke-width="2"/>
<circle cx="1229.85" cy="416.5" r="3.9" fill="#fff" stroke="#8aabdc" stroke-width="2"/>
<circle cx="1266.09" cy="438.5" r="3.9" fill="#fff" stroke="#8aabdc" stroke-width="2"/>
<circle cx="1302.32" cy="447.5" r="3.9" fill="#fff" stroke="#8aabdc" stroke-width="2"/>
<circle cx="1338.55" cy="333.75" r="3.9" fill="#fff" stroke="#8aabdc" stroke-width="2"/>
<circle cx="1374.79" cy="361" r="3.9" fill="#fff" stroke="#8aabdc" stroke-width="2"/>
<circle cx="1411.02" cy="337" r="3.9" fill="#fff" stroke="#8aabdc" stroke-width="2"/>
<circle cx="1447.26" cy="334" r="3.9" fill="#fff" stroke="#8aabdc" stroke-width="2"/>
<circle cx="1483.49" cy="320.4" r="3.9" fill="#fff" stroke="#8aabdc" stroke-width="2"/>
<circle cx="1519.72" cy="390.2" r="3.9" fill="#fff" stroke="#8aabdc" stroke-width="2"/>
<circle cx="1535.25" cy="360" r="3.9" fill="#fff" stroke="#8aabdc" stroke-width="2"/>
<circle cx="215.3" cy="120" r="3.9" fill="#fff" stroke="#fdd698" stroke-width="2"/>
<circle cx="251.53" cy="180.25" r="3.9" fill="#fff" stroke="#fdd698" stroke-width="2"/>
<circle cx="287.77" cy="235" r="3.9" fill="#fff" stroke="#fdd698" stroke-width="2"/>
<circle cx="324" cy="273.3" r="3.9" fill="#fff" stroke="#fdd698" stroke-width="2"/>
<circle cx="360.24" cy="276.25" r="3.9" fill="#fff" stroke="#fdd698" stroke-width="2"/>
<circle cx="396.47" cy="226" r="3.9" fill="#fff" stroke="#fdd698" stroke-width="2"/>
<circle cx="432.7" cy="216" r="3.9" fill="#fff" stroke="#fdd698" stroke-width="2"/>
<circle cx="468.94" cy="203.5" r="3.9" fill="#fff" stroke="#fdd698" stroke-width="2"/>
<circle cx="505.17" cy="261.1" r="3.9" fill="#fff" stroke="#fdd698" stroke-width="2"/>
<circle cx="541.41" cy="297.75" r="3.9" fill="#fff" stroke="#fdd698" stroke-width="2"/>
<circle cx="577.64" cy="276.25" r="3.9" fill="#fff" stroke="#fdd698" stroke-width="2"/>
<circle cx="613.87" cy="287.5" r="3.9" fill="#fff" stroke="#fdd698" stroke-width="2"/>
<circle cx="650.11" cy="252" r="3.9" fill="#fff" stroke="#fdd698" stroke-width="2"/>
<circle cx="686.34" cy="267.5" r="3.9" fill="#fff" stroke="#fdd698" stroke-width="2"/>
<circle cx="722.58" cy="262" r="3.9" fill="#fff" stroke="#fdd698" stroke-width="2"/>
<circle cx="758.81" cy="298.75" r="3.9" fill="#fff" stroke="#fdd698" stroke-width="2"/>
<circle cx="795.04" cy="287.9" r="3.9" fill="#fff" stroke="#fdd698" stroke-width="2"/>
<circle cx="831.28" cy="300.25" r="3.9" fill="#fff" stroke="#fdd698" stroke-width="2"/>
<circle cx="867.51" cy="331" r="3.9" fill="#fff" stroke="#fdd698" stroke-width="2"/>
<circle cx="903.75" cy="338.5" r="3.9" fill="#fff" stroke="#fdd698" stroke-width="2"/>
<circle cx="939.98" cy="366" r="3.9" fill="#fff" stroke="#fdd698" stroke-width="2"/>
<circle cx="976.21" cy="353" r="3.9" fill="#fff" stroke="#fdd698" stroke-width="2"/>
<circle cx="1012.45" cy="378.75" r="3.9" fill="#fff" stroke="#fdd698" stroke-width="2"/>
<circle cx="1048.68" cy="405.8" r="3.9" fill="#fff" stroke="#fdd698" stroke-width="2"/>
<circle cx="1084.92" cy="380" r="3.9" fill="#fff" stroke="#fdd698" stroke-width="2"/>
<circle cx="1121.15" cy="377" r="3.9" fill="#fff" stroke="#fdd698" stroke-width="2"/>
<circle cx="1157.38" cy="355.6" r="3.9" fill="#fff" stroke="#fdd698" stroke-width="2"/>
<circle cx="1193.62" cy="372.5" r="3.9" fill="#fff" stroke="#fdd698" stroke-width="2"/>
<circle cx="1229.85" cy="381.25" r="3.9" fill="#fff" stroke="#fdd698" stroke-width="2"/>
<circle cx="1266.09" cy="408" r="3.9" fill="#fff" stroke="#fdd698" stroke-width="2"/>
<circle cx="1302.32" cy="427.25" r="3.9" fill="#fff" stroke="#fdd698" stroke-width="2"/>
<circle cx="1338.55" cy="329.4" r="3.9" fill="#fff" stroke="#fdd698" stroke-width="2"/>
<circle cx="1374.79" cy="345.6" r="3.9" fill="#fff" stroke="#fdd698" stroke-width="2"/>
<circle cx="1411.02" cy="330" r="3.9" fill="#fff" stroke="#fdd698" stroke-width="2"/>
<circle cx="1447.26" cy="332.25" r="3.9" fill="#fff" stroke="#fdd698" stroke-width="2"/>
<circle cx="1483.49" cy="311.25" r="3.9" fill="#fff" stroke="#fdd698" stroke-width="2"/>
<circle cx="1519.72" cy="372.25" r="3.9" fill="#fff" stroke="#fdd698" stroke-width="2"/>
<circle cx="1535.25" cy="344.75" r="3.9" fill="#fff" stroke="#fdd698" stroke-width="2"/>
<circle cx="215.3" cy="120" r="3.9" fill="#fff" stroke="#84d2d8" stroke-width="2"/>
<circle cx="251.53" cy="163.75" r="3.9" fill="#fff" stroke="#84d2d8" stroke-width="2"/>
<circle cx="287.77" cy="216.6" r="3.9" fill="#fff" stroke="#84d2d8" stroke-width="2"/>
<circle cx="324" cy="234" r="3.9" fill="#fff" stroke="#84d2d8" stroke-width="2"/>
<circle cx="360.24" cy="263.1" r="3.9" fill="#fff" stroke="#84d2d8" stroke-width="2"/>
<circle cx="396.47" cy="213.5" r="3.9" fill="#fff" stroke="#84d2d8" stroke-width="2"/>
<circle cx="432.7" cy="227.25" r="3.9" fill="#fff" stroke="#84d2d8" stroke-width="2"/>
<circle cx="468.94" cy="235.6" r="3.9" fill="#fff" stroke="#84d2d8" stroke-width="2"/>
<circle cx="505.17" cy="283.1" r="3.9" fill="#fff" stroke="#84d2d8" stroke-width="2"/>
<circle cx="541.41" cy="337.8" r="3.9" fill="#fff" stroke="#84d2d8" stroke-width="2"/>
<circle cx="577.64" cy="290" r="3.9" fill="#fff" stroke="#84d2d8" stroke-width="2"/>
<circle cx="613.87" cy="282.5" r="3.9" fill="#fff" stroke="#84d2d8" stroke-width="2"/>
<circle cx="650.11" cy="248.1" r="3.9" fill="#fff" stroke="#84d2d8" stroke-width="2"/>
<circle cx="686.34" cy="260" r="3.9" fill="#fff" stroke="#84d2d8" stroke-width="2"/>
<circle cx="722.58" cy="248" r="3.9" fill="#fff" stroke="#84d2d8" stroke-width="2"/>
<circle cx="758.81" cy="266.25" r="3.9" fill="#fff" stroke="#84d2d8" stroke-width="2"/>
<circle cx="795.04" cy="274.4" r="3.9" fill="#fff" stroke="#84d2d8" stroke-width="2"/>
<circle cx="831.28" cy="285.8" r="3.9" fill="#fff" stroke="#84d2d8" stroke-width="2"/>
<circle cx="867.51" cy="296.1" r="3.9" fill="#fff" stroke="#84d2d8" stroke-width="2"/>
<circle cx="903.75" cy="305.6" r="3.9" fill="#fff" stroke="#84d2d8" stroke-width="2"/>
<circle cx="939.98" cy="336.9" r="3.9" fill="#fff" stroke="#84d2d8" stroke-width="2"/>
<circle cx="976.21" cy="337.5" r="3.9" fill="#fff" stroke="#84d2d8" stroke-width="2"/>
<circle cx="1012.45" cy="364.4" r="3.9" fill="#fff" stroke="#84d2d8" stroke-width="2"/>
<circle cx="1048.68" cy="364.75" r="3.9" fill="#fff" stroke="#84d2d8" stroke-width="2"/>
<circle cx="1084.92" cy="331.25" r="3.9" fill="#fff" stroke="#84d2d8" stroke-width="2"/>
<circle cx="1121.15" cy="333.75" r="3.9" fill="#fff" stroke="#84d2d8" stroke-width="2"/>
<circle cx="1157.38" cy="314.4" r="3.9" fill="#fff" stroke="#84d2d8" stroke-width="2"/>
<circle cx="1193.62" cy="335.6" r="3.9" fill="#fff" stroke="#84d2d8" stroke-width="2"/>
<circle cx="1229.85" cy="343.5" r="3.9" fill="#fff" stroke="#84d2d8" stroke-width="2"/>
<circle cx="1266.09" cy="364.75" r="3.9" fill="#fff" stroke="#84d2d8" stroke-width="2"/>
<circle cx="1302.32" cy="389.4" r="3.9" fill="#fff" stroke="#84d2d8" stroke-width="2"/>
<circle cx="1338.55" cy="267.25" r="3.9" fill="#fff" stroke="#84d2d8" stroke-width="2"/>
<circle cx="1374.79" cy="283.75" r="3.9" fill="#fff" stroke="#84d2d8" stroke-width="2"/>
<circle cx="1411.02" cy="265.4" r="3.9" fill="#fff" stroke="#84d2d8" stroke-width="2"/>
<circle cx="1447.26" cy="288.75" r="3.9" fill="#fff" stroke="#84d2d8" stroke-width="2"/>
<circle cx="1483.49" cy="278.1" r="3.9" fill="#fff" stroke="#84d2d8" stroke-width="2"/>
<circle cx="1519.72" cy="325.6" r="3.9" fill="#fff" stroke="#84d2d8" stroke-width="2"/>
<circle cx="1535.25" cy="298.1" r="3.9" fill="#fff" stroke="#84d2d8" stroke-width="2"/>
<circle cx="215.3" cy="120" r="3.9" fill="#fff" stroke="#a0a0a0" stroke-width="2"/>
<circle cx="251.53" cy="200" r="3.9" fill="#fff" stroke="#a0a0a0" stroke-width="2"/>
<circle cx="287.77" cy="238.1" r="3.9" fill="#fff" stroke="#a0a0a0" stroke-width="2"/>
<circle cx="324" cy="285" r="3.9" fill="#fff" stroke="#a0a0a0" stroke-width="2"/>
<circle cx="360.24" cy="281.9" r="3.9" fill="#fff" stroke="#a0a0a0" stroke-width="2"/>
<circle cx="396.47" cy="223.75" r="3.9" fill="#fff" stroke="#a0a0a0" stroke-width="2"/>
<circle cx="432.7" cy="213.5" r="3.9" fill="#fff" stroke="#a0a0a0" stroke-width="2"/>
<circle cx="468.94" cy="212.25" r="3.9" fill="#fff" stroke="#a0a0a0" stroke-width="2"/>
<circle cx="505.17" cy="275" r="3.9" fill="#fff" stroke="#a0a0a0" stroke-width="2"/>
<circle cx="541.41" cy="309.4" r="3.9" fill="#fff" stroke="#a0a0a0" stroke-width="2"/>
<circle cx="577.64" cy="285.25" r="3.9" fill="#fff" stroke="#a0a0a0" stroke-width="2"/>
<circle cx="613.87" cy="291.25" r="3.9" fill="#fff" stroke="#a0a0a0" stroke-width="2"/>
<circle cx="650.11" cy="255" r="3.9" fill="#fff" stroke="#a0a0a0" stroke-width="2"/>
<circle cx="686.34" cy="276" r="3.9" fill="#fff" stroke="#a0a0a0" stroke-width="2"/>
<circle cx="722.58" cy="273" r="3.9" fill="#fff" stroke="#a0a0a0" stroke-width="2"/>
<circle cx="758.81" cy="304.2" r="3.9" fill="#fff" stroke="#a0a0a0" stroke-width="2"/>
<circle cx="795.04" cy="302.1" r="3.9" fill="#fff" stroke="#a0a0a0" stroke-width="2"/>
<circle cx="831.28" cy="316" r="3.9" fill="#fff" stroke="#a0a0a0" stroke-width="2"/>
<circle cx="867.51" cy="341.9" r="3.9" fill="#fff" stroke="#a0a0a0" stroke-width="2"/>
<circle cx="903.75" cy="350.25" r="3.9" fill="#fff" stroke="#a0a0a0" stroke-width="2"/>
<circle cx="939.98" cy="375" r="3.9" fill="#fff" stroke="#a0a0a0" stroke-width="2"/>
<circle cx="976.21" cy="360" r="3.9" fill="#fff" stroke="#a0a0a0" stroke-width="2"/>
<circle cx="1012.45" cy="387" r="3.9" fill="#fff" stroke="#a0a0a0" stroke-width="2"/>
<circle cx="1048.68" cy="418" r="3.9" fill="#fff" stroke="#a0a0a0" stroke-width="2"/>
<circle cx="1084.92" cy="393.5" r="3.9" fill="#fff" stroke="#a0a0a0" stroke-width="2"/>
<circle cx="1121.15" cy="392.5" r="3.9" fill="#fff" stroke="#a0a0a0" stroke-width="2"/>
<circle cx="1157.38" cy="371" r="3.9" fill="#fff" stroke="#a0a0a0" stroke-width="2"/>
<circle cx="1193.62" cy="388" r="3.9" fill="#fff" stroke="#a0a0a0" stroke-width="2"/>
<circle cx="1229.85" cy="402.25" r="3.9" fill="#fff" stroke="#a0a0a0" stroke-width="2"/>
<circle cx="1266.09" cy="424.75" r="3.9" fill="#fff" stroke="#a0a0a0" stroke-width="2"/>
<circle cx="1302.32" cy="443.5" r="3.9" fill="#fff" stroke="#a0a0a0" stroke-width="2"/>
<circle cx="1338.55" cy="348.5" r="3.9" fill="#fff" stroke="#a0a0a0" stroke-width="2"/>
<circle cx="1374.79" cy="366" r="3.9" fill="#fff" stroke="#a0a0a0" stroke-width="2"/>
<circle cx="1411.02" cy="355" r="3.9" fill="#fff" stroke="#a0a0a0" stroke-width="2"/>
<circle cx="1447.26" cy="362" r="3.9" fill="#fff" stroke="#a0a0a0" stroke-width="2"/>
<circle cx="1483.49" cy="334.75" r="3.9" fill="#fff" stroke="#a0a0a0" stroke-width="2"/>
<circle cx="1519.72" cy="390.6" r="3.9" fill="#fff" stroke="#a0a0a0" stroke-width="2"/>
<circle cx="1535.25" cy="364" r="3.9" fill="#fff" stroke="#a0a0a0" stroke-width="2"/>
<line x1="403.5" y1="738" x2="453.5" y2="738" stroke="#8aabdc" stroke-width="2"/>
<circle cx="428.5" cy="737.7" r="11.5" fill="#fff" stroke="#8aabdc" stroke-width="2"/>
<text x="463.5" y="736" dominant-baseline="central" class="leg">广发瑞安精选股票A</text>
<line x1="693.5" y1="738" x2="743.5" y2="738" stroke="#fdd698" stroke-width="2"/>
<circle cx="718.5" cy="737.7" r="11.5" fill="#fff" stroke="#fdd698" stroke-width="2"/>
<text x="753.5" y="736" dominant-baseline="central" class="leg">同类平均</text>
<line x1="870.5" y1="738" x2="920.5" y2="738" stroke="#84d2d8" stroke-width="2"/>
<circle cx="895.5" cy="737.7" r="11.5" fill="#fff" stroke="#84d2d8" stroke-width="2"/>
<text x="930.5" y="736" dominant-baseline="central" class="leg">沪深<tspan font-size="25.5">300</tspan></text>
<line x1="1041.5" y1="738" x2="1091.5" y2="738" stroke="#a0a0a0" stroke-width="2"/>
<circle cx="1066.5" cy="737.7" r="11.5" fill="#fff" stroke="#a0a0a0" stroke-width="2"/>
<text x="1101.5" y="736" dominant-baseline="central" class="leg">主动股基</text>
</svg>
<div class="title">复权单位净值增长率</div>
<div class="foot">制图数据来自恒生聚源数据库</div>
</body></html>
